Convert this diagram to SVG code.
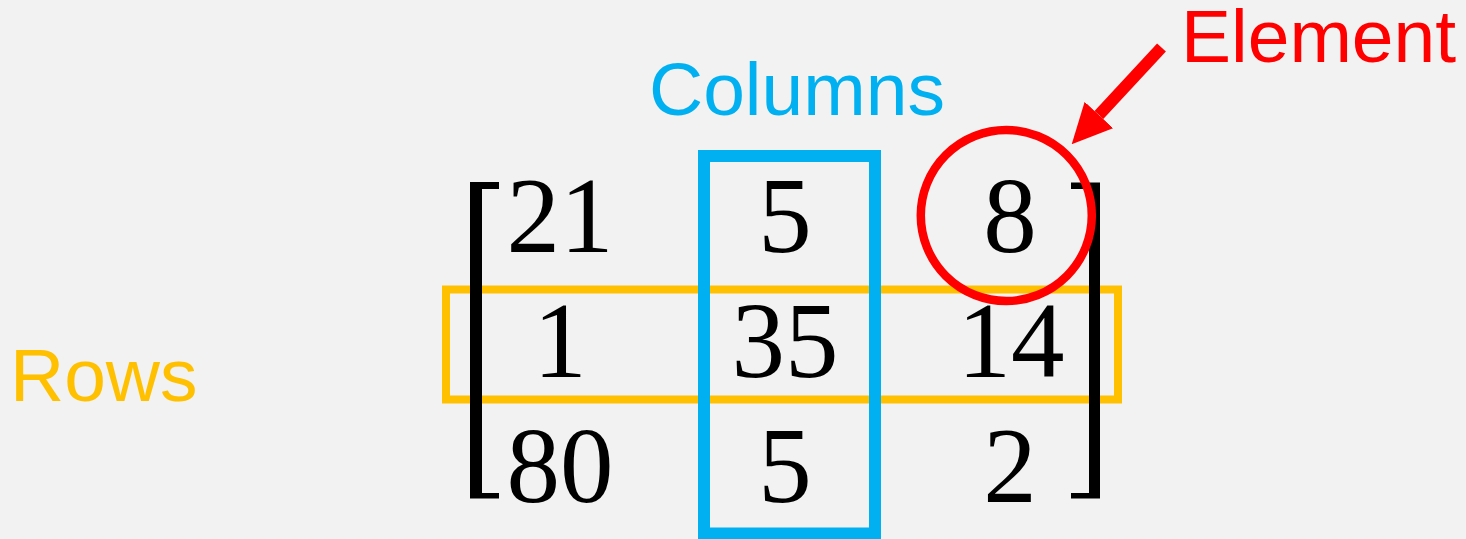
<svg xmlns="http://www.w3.org/2000/svg" width="1466" height="539" viewBox="0 0 1466 539">
<style>
.num{font-family:"Liberation Serif","Times New Roman",serif;font-size:107px;fill:#000;text-anchor:middle}
.lbl{font-family:"Liberation Sans",Arial,sans-serif;font-size:75px}
.br{fill:#000}
</style>
<defs>
<marker id="ah" markerUnits="userSpaceOnUse" markerWidth="40" markerHeight="40" refX="0" refY="17.5" orient="auto" viewBox="0 0 36 35">
<path d="M0,0 L36,17.5 L0,35 Z" fill="#FF0000"/>
</marker>
</defs>
<rect width="1466" height="539" fill="#F2F2F2"/>
<g id="rows-box"><rect x="446" y="289.5" width="672" height="110" fill="none" stroke="#FFC000" stroke-width="8"/></g>
<g id="matrix">
<path class="br" d="M470,182 L499,182 L499,189 L482,189 L482,493 L499,493 L499,498.5 L470,498.5 Z"/>
<path class="br" d="M1100,182.5 L1071,182.5 L1071,189 L1089,189 L1089,493 L1071,493 L1071,498.5 L1100,498.5 Z"/>
<text class="num" x="560" y="252">21</text>
<text class="num" x="785" y="252">5</text>
<text class="num" x="1010" y="252">8</text>
<text class="num" x="560" y="377">1</text>
<text class="num" x="785" y="377">35</text>
<text class="num" x="1011" y="377">14</text>
<text class="num" x="560" y="502">80</text>
<text class="num" x="785" y="502">5</text>
<text class="num" x="1010" y="502">2</text>
</g>
<g id="columns-box"><rect x="704" y="156" width="171" height="377.5" fill="none" stroke="#00B0F0" stroke-width="12"/></g>
<g id="element-circle"><circle cx="1006.3" cy="215.5" r="85.5" fill="none" stroke="#FF0000" stroke-width="8.5"/></g>
<g id="connectors">
<line x1="1161.5" y1="47.5" x2="1098.9" y2="115" stroke="#FF0000" stroke-width="12" marker-end="url(#ah)"/>
</g>
<g id="label-columns"><text class="lbl" x="649" y="115" fill="#00B0F0">Columns</text></g>
<g id="label-rows"><text class="lbl" x="10" y="401" fill="#FFC000">Rows</text></g>
<g id="label-element"><text class="lbl" x="1181" y="62" fill="#FF0000">Element</text></g>
</svg>
